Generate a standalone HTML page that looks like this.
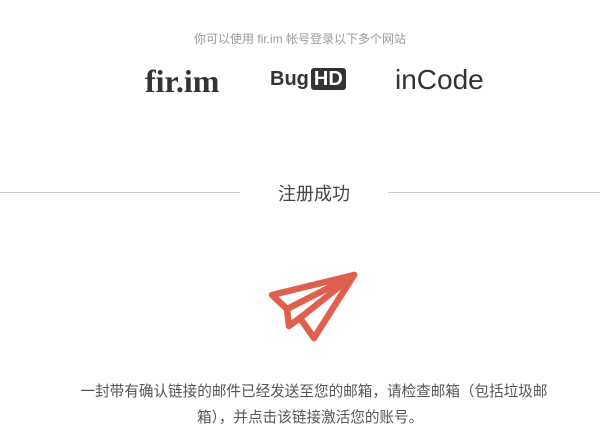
<!DOCTYPE html>
<html><head><meta charset="utf-8"><style>
body{margin:0;width:600px;height:444px;background:#fff;position:relative;overflow:hidden;font-family:"Liberation Sans","Noto Sans CJK SC",sans-serif;}
.a{position:absolute;white-space:nowrap}
</style></head><body>
<div class="a" style="left:0;width:600px;top:30px;text-align:center;font-size:12px;color:#9a9a9a">你可以使用 fir.im 帐号登录以下多个网站</div>
<div class="a" style="left:145px;top:63px;font-family:'Liberation Serif',serif;font-weight:bold;font-size:32px;color:#333">fir.im</div>
<div class="a" style="left:270px;top:68px;font-size:20px;font-weight:bold;color:#333">Bug<span style="background:#333;color:#fff;border-radius:3px;padding:0 3px;margin-left:2px">HD</span></div>
<div class="a" style="left:395px;top:64px;font-size:28px;color:#333">inCode</div>
<div class="a" style="left:0;top:192px;width:240px;height:1px;background:#ccc"></div>
<div class="a" style="left:388px;top:192px;width:212px;height:1px;background:#ccc"></div>
<div class="a" style="left:0;width:628px;top:180px;text-align:center;font-size:18px;color:#444">注册成功</div>
<svg class="a" style="left:0;top:0" width="600" height="444">
<g fill="none" stroke="#e0604e" stroke-width="6.5" stroke-linejoin="round" stroke-linecap="round">
<polygon points="354,275 272,295 287,309 289,326 300,318 314,338"/>
<line x1="354" y1="275" x2="287" y2="309"/>
<line x1="354" y1="275" x2="300" y2="318"/>
</g></svg>
<div class="a" style="left:0;width:628px;top:380px;text-align:center;font-size:14.6px;color:#555">一封带有确认链接的邮件已经发送至您的邮箱，请检查邮箱（包括垃圾邮</div>
<div class="a" style="left:197px;top:406px;font-size:14.6px;color:#555">箱），并点击该链接激活您的账号。</div>
</body></html>
